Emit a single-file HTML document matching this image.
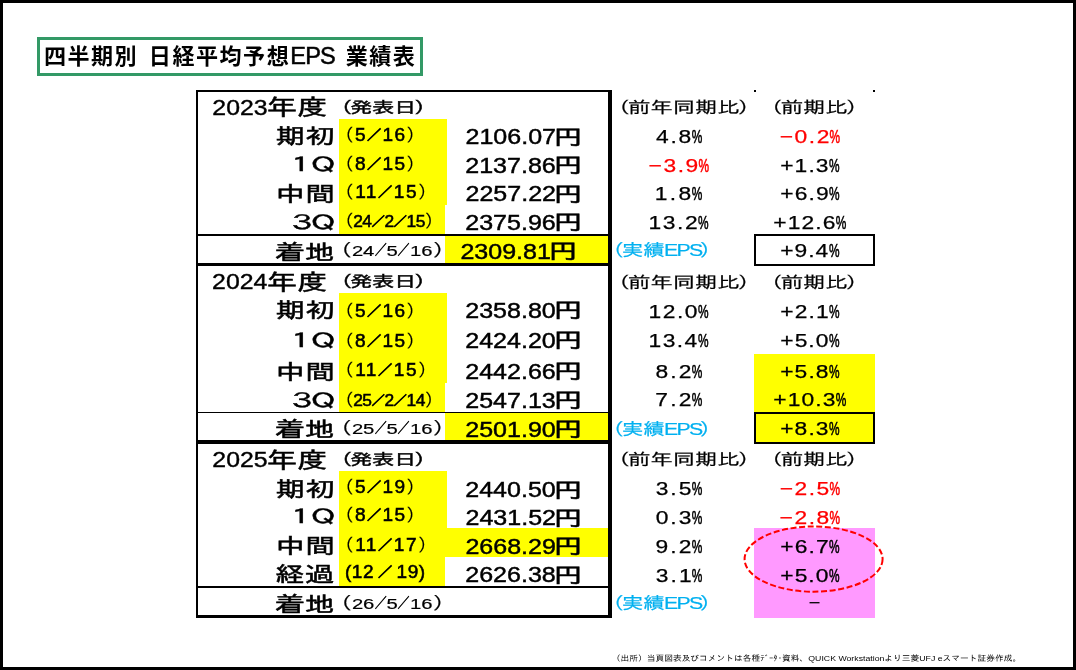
<!DOCTYPE html>
<html lang="ja"><head><meta charset="utf-8"><title>四半期別 日経平均予想EPS 業績表</title>
<style>
html,body{margin:0;padding:0;background:#fff}
body{position:relative;width:1076px;height:670px;overflow:hidden}
.r{position:absolute}
.t{position:absolute;left:0;top:0;white-space:nowrap;line-height:1 !important;transform-origin:0 0}
.ti{font:700 22px 'Liberation Sans','Noto Sans CJK JP',sans-serif;}
.yr{font:400 22.25px 'Liberation Sans','IPAGothic',sans-serif;-webkit-text-stroke:0.4px;}
.nd{font:400 22.25px 'Liberation Sans','IPAGothic',sans-serif;-webkit-text-stroke:0.5px;}
.hp{font:400 15.75px 'Liberation Sans','IPAGothic',sans-serif;-webkit-text-stroke:0.45px;}
.lb{font:400 21.5px 'Liberation Sans','IPAGothic',sans-serif;-webkit-text-stroke:0.5px;}
.lq{font:400 20.5px 'Liberation Sans','IPAGothic',sans-serif;-webkit-text-stroke:0.4px;}
.db{font:400 18.3px 'Liberation Sans','IPAGothic',sans-serif;-webkit-text-stroke:0.55px;}
.dc{font:400 16.7px 'Liberation Sans','IPAGothic',sans-serif;-webkit-text-stroke:0.55px;}
.de{font:400 18.3px 'Liberation Sans','IPAGothic',sans-serif;-webkit-text-stroke:0.55px;}
.dn{font:400 15.1px 'Liberation Sans','IPAGothic',sans-serif;-webkit-text-stroke:0.2px;}
.vl{font:400 21.5px 'Liberation Sans','IPAGothic',sans-serif;-webkit-text-stroke:0.45px;}
.yn{font:400 21.5px 'Liberation Sans','IPAGothic',sans-serif;-webkit-text-stroke:0.5px;}
.pn{font:400 18.25px 'Liberation Sans','IPAGothic',sans-serif;-webkit-text-stroke:0.25px;}
.pc{font:400 18.75px 'Liberation Sans','IPAGothic',sans-serif;-webkit-text-stroke:0.6px;}
.hd{font:400 16px 'Liberation Sans','IPAGothic',sans-serif;-webkit-text-stroke:0.2px;}
.ep{font:400 16.75px 'Liberation Sans','IPAGothic',sans-serif;-webkit-text-stroke:0.2px;}
.ds{font:400 18.5px 'Liberation Sans','IPAGothic',sans-serif;}
.ft{font:400 8px 'Liberation Sans','IPAGothic',sans-serif;}
.ti{word-spacing:3px;letter-spacing:1.5px}
.ti .e{font-weight:400;font-size:23.5px;-webkit-text-stroke:.5px;letter-spacing:-.8px}
.db .p,.dc .p{font-size:17px;-webkit-text-stroke:.15px}
.db .s,.de .s{font-size:14px;position:relative;top:-1px;-webkit-text-stroke:1px}
.dc .s{font-size:13px;position:relative;top:-1px;-webkit-text-stroke:.9px}
.dn .p{font-size:16.9px}
.de .s{margin:0 3.5px}
.dn .s{display:inline-block;font-size:14.5px;transform:scaleX(.64);margin:0 -2.6px;position:relative;top:-1px;-webkit-text-stroke:.5px}
.ep .e{letter-spacing:-1.3px;margin-left:-.5px}
.hd .p,.hp .p,.ep .p{margin-right:-1.6px}
.hd .q,.hp .q,.ep .q{margin-left:-1.6px}
</style></head><body>
<div class="r" style="left:0;top:0;width:1070px;height:664px;border:3px solid #000"></div>
<div class="r" style="left:37px;top:37px;width:380px;height:33px;border:3px solid #396"></div>
<div class="r" style="left:339px;top:119px;width:108px;height:86px;background:#ff0"></div>
<div class="r" style="left:339px;top:205px;width:106px;height:29px;background:#ff0"></div>
<div class="r" style="left:339px;top:293px;width:108px;height:90px;background:#ff0"></div>
<div class="r" style="left:339px;top:383px;width:106px;height:29px;background:#ff0"></div>
<div class="r" style="left:339px;top:471px;width:108px;height:86px;background:#ff0"></div>
<div class="r" style="left:339px;top:557px;width:106px;height:29px;background:#ff0"></div>
<div class="r" style="left:445px;top:236px;width:163px;height:27px;background:#ff0"></div>
<div class="r" style="left:445px;top:413px;width:163px;height:27px;background:#ff0"></div>
<div class="r" style="left:445px;top:528px;width:163px;height:29px;background:#ff0"></div>
<div class="r" style="left:754px;top:354px;width:121px;height:90px;background:#ff0"></div>
<div class="r" style="left:754px;top:528px;width:121px;height:90px;background:#f9f"></div>
<div class="r" style="left:196px;top:90px;width:416px;height:2px;background:#000"></div>
<div class="r" style="left:196px;top:90px;width:2px;height:528px;background:#000"></div>
<div class="r" style="left:608px;top:90px;width:4px;height:528px;background:#000"></div>
<div class="r" style="left:196px;top:615px;width:416px;height:3px;background:#000"></div>
<div class="r" style="left:196px;top:234px;width:414px;height:2px;background:#000"></div>
<div class="r" style="left:196px;top:263px;width:414px;height:3px;background:#000"></div>
<div class="r" style="left:196px;top:412px;width:414px;height:1px;background:#000"></div>
<div class="r" style="left:196px;top:440px;width:414px;height:4px;background:#000"></div>
<div class="r" style="left:196px;top:586px;width:414px;height:2px;background:#000"></div>
<div class="r" style="left:754px;top:234px;width:117px;height:28px;border:2px solid #000"></div>
<div class="r" style="left:754px;top:412px;width:117px;height:28px;border:2px solid #000"></div>
<div class="r" style="left:754px;top:90px;width:2px;height:2px;background:#000"></div>
<div class="r" style="left:873px;top:90px;width:2px;height:2px;background:#000"></div>
<svg class="r" style="left:735px;top:518px" width="160" height="84" viewBox="735 518 160 84"><ellipse cx="813.6" cy="559.1" rx="69" ry="32.6" fill="none" stroke="#f00" stroke-width="2" stroke-dasharray="6 2.6"/></svg>
<div class="t ti" style="transform:translate(43.90px,45px) scaleX(1.003)">四半期別 日経平均予想<span class="e">EPS</span> 業績表</div>
<div class="t yr" style="transform:translate(212.35px,97px) scaleX(1.116)">2023</div>
<div class="t nd" style="transform:translate(266.62px,97px) scaleX(1.375)">年度</div>
<div class="t hp" style="transform:translate(330.60px,100px) scaleX(1.396)"><span class="p">（</span>発表日<span class="q">）</span></div>
<div class="t lb" style="transform:translate(275.50px,127px) scaleX(1.387)">期初</div>
<div class="t lq" style="letter-spacing:-5.97px;transform:translate(284.50px,155px) scaleX(1.550)">１Ｑ</div>
<div class="t lb" style="transform:translate(275.50px,185px) scaleX(1.387)">中間</div>
<div class="t lq" style="letter-spacing:-7.26px;transform:translate(286.50px,213px) scaleX(1.550)">３Ｑ</div>
<div class="t lb" style="transform:translate(275.12px,243px) scaleX(1.387)">着地</div>
<div class="t db" style="letter-spacing:1.19px;transform:translate(336.02px,126px) scaleX(1.040)"><span class="p">（</span>5<span class="s">／</span>16<span class="p">）</span></div>
<div class="t db" style="letter-spacing:1.19px;transform:translate(336.02px,155px) scaleX(1.040)"><span class="p">（</span>8<span class="s">／</span>15<span class="p">）</span></div>
<div class="t db" style="letter-spacing:1.41px;transform:translate(335.98px,183px) scaleX(1.040)"><span class="p">（</span>11<span class="s">／</span>15<span class="p">）</span></div>
<div class="t dc" style="letter-spacing:-0.51px;transform:translate(336.00px,213px) scaleX(1.040)"><span class="p">（</span>24<span class="s">／</span>2<span class="s">／</span>15<span class="p">）</span></div>
<div class="t dn" style="letter-spacing:-0.09px;transform:translate(329.45px,243px) scaleX(1.340)"><span class="p">（</span>24<span class="s">／</span>5<span class="s">／</span>16<span class="p">）</span></div>
<div class="t vl" style="transform:translate(465.50px,127px) scaleX(1.164)">2106.07</div>
<div class="t yn" style="transform:translate(553.62px,128px) scaleX(1.409)">円</div>
<div class="t vl" style="transform:translate(465.25px,156px) scaleX(1.164)">2137.86</div>
<div class="t yn" style="transform:translate(553.62px,156px) scaleX(1.409)">円</div>
<div class="t vl" style="transform:translate(465.50px,184px) scaleX(1.164)">2257.22</div>
<div class="t yn" style="transform:translate(553.62px,185px) scaleX(1.409)">円</div>
<div class="t vl" style="transform:translate(465.25px,213px) scaleX(1.164)">2375.96</div>
<div class="t yn" style="transform:translate(553.62px,213px) scaleX(1.409)">円</div>
<div class="t vl" style="transform:translate(460.38px,242px) scaleX(1.164)">2309.81</div>
<div class="t yn" style="transform:translate(548.62px,242px) scaleX(1.409)">円</div>
<div class="t pn" style="letter-spacing:1.36px;transform:translate(656.07px,128px) scaleX(1.250)">4.8</div>
<div class="t pc" style="transform:translate(691.75px,128px) scaleX(0.634)">%</div>
<div class="t pn" style="letter-spacing:1.24px;color:#f00;transform:translate(648.57px,157px) scaleX(1.250)">−3.9</div>
<div class="t pc" style="color:#f00;transform:translate(698.62px,157px) scaleX(0.634)">%</div>
<div class="t pn" style="letter-spacing:1.86px;transform:translate(654.82px,185px) scaleX(1.250)">1.8</div>
<div class="t pc" style="transform:translate(691.75px,185px) scaleX(0.634)">%</div>
<div class="t pn" style="letter-spacing:1.28px;transform:translate(648.55px,214px) scaleX(1.250)">13.2</div>
<div class="t pc" style="transform:translate(698.07px,214px) scaleX(0.634)">%</div>
<div class="t pn" style="letter-spacing:1.24px;color:#f00;transform:translate(779.70px,128px) scaleX(1.250)">−0.2</div>
<div class="t pc" style="color:#f00;transform:translate(829.62px,128px) scaleX(0.634)">%</div>
<div class="t pn" style="letter-spacing:0.88px;transform:translate(780.17px,157px) scaleX(1.250)">+1.3</div>
<div class="t pc" style="transform:translate(829.07px,157px) scaleX(0.634)">%</div>
<div class="t pn" style="letter-spacing:0.88px;transform:translate(780.30px,185px) scaleX(1.250)">+6.9</div>
<div class="t pc" style="transform:translate(829.07px,185px) scaleX(0.634)">%</div>
<div class="t pn" style="letter-spacing:0.88px;transform:translate(773.32px,214px) scaleX(1.250)">+12.6</div>
<div class="t pc" style="transform:translate(835.87px,214px) scaleX(0.634)">%</div>
<div class="t pn" style="letter-spacing:0.75px;transform:translate(780.30px,242px) scaleX(1.250)">+9.4</div>
<div class="t pc" style="transform:translate(829.07px,242px) scaleX(0.634)">%</div>
<div class="t hd" style="transform:translate(607.75px,100px) scaleX(1.399)"><span class="p">（</span>前年同期比<span class="q">）</span></div>
<div class="t hd" style="transform:translate(760.50px,100px) scaleX(1.399)"><span class="p">（</span>前期比<span class="q">）</span></div>
<div class="t ep" style="color:#00b0f0;transform:translate(602.70px,243px) scaleX(1.271)"><span class="p">（</span>実績<span class="e">EPS</span><span class="q">）</span></div>
<div class="t yr" style="transform:translate(212.10px,271px) scaleX(1.116)">2024</div>
<div class="t nd" style="transform:translate(266.62px,272px) scaleX(1.375)">年度</div>
<div class="t hp" style="transform:translate(330.60px,274px) scaleX(1.396)"><span class="p">（</span>発表日<span class="q">）</span></div>
<div class="t lb" style="transform:translate(275.50px,301px) scaleX(1.387)">期初</div>
<div class="t lq" style="letter-spacing:-5.97px;transform:translate(284.50px,331px) scaleX(1.550)">１Ｑ</div>
<div class="t lb" style="transform:translate(275.50px,363px) scaleX(1.387)">中間</div>
<div class="t lq" style="letter-spacing:-7.26px;transform:translate(286.50px,391px) scaleX(1.550)">３Ｑ</div>
<div class="t lb" style="transform:translate(275.12px,420px) scaleX(1.387)">着地</div>
<div class="t db" style="letter-spacing:1.19px;transform:translate(336.02px,302px) scaleX(1.040)"><span class="p">（</span>5<span class="s">／</span>16<span class="p">）</span></div>
<div class="t db" style="letter-spacing:1.19px;transform:translate(336.02px,332px) scaleX(1.040)"><span class="p">（</span>8<span class="s">／</span>15<span class="p">）</span></div>
<div class="t db" style="letter-spacing:1.41px;transform:translate(335.98px,361px) scaleX(1.040)"><span class="p">（</span>11<span class="s">／</span>15<span class="p">）</span></div>
<div class="t dc" style="letter-spacing:-0.51px;transform:translate(336.00px,392px) scaleX(1.040)"><span class="p">（</span>25<span class="s">／</span>2<span class="s">／</span>14<span class="p">）</span></div>
<div class="t dn" style="letter-spacing:-0.09px;transform:translate(329.45px,421px) scaleX(1.340)"><span class="p">（</span>25<span class="s">／</span>5<span class="s">／</span>16<span class="p">）</span></div>
<div class="t vl" style="transform:translate(465.25px,301px) scaleX(1.164)">2358.80</div>
<div class="t yn" style="transform:translate(553.62px,301px) scaleX(1.409)">円</div>
<div class="t vl" style="transform:translate(465.25px,331px) scaleX(1.164)">2424.20</div>
<div class="t yn" style="transform:translate(553.62px,331px) scaleX(1.409)">円</div>
<div class="t vl" style="transform:translate(465.25px,362px) scaleX(1.164)">2442.66</div>
<div class="t yn" style="transform:translate(553.62px,362px) scaleX(1.409)">円</div>
<div class="t vl" style="transform:translate(465.25px,391px) scaleX(1.164)">2547.13</div>
<div class="t yn" style="transform:translate(553.62px,391px) scaleX(1.409)">円</div>
<div class="t vl" style="transform:translate(465.25px,420px) scaleX(1.164)">2501.90</div>
<div class="t yn" style="transform:translate(553.62px,420px) scaleX(1.409)">円</div>
<div class="t pn" style="letter-spacing:1.21px;transform:translate(648.55px,303px) scaleX(1.250)">12.0</div>
<div class="t pc" style="transform:translate(698.07px,303px) scaleX(0.634)">%</div>
<div class="t pn" style="letter-spacing:1.15px;transform:translate(648.55px,332px) scaleX(1.250)">13.4</div>
<div class="t pc" style="transform:translate(698.07px,332px) scaleX(0.634)">%</div>
<div class="t pn" style="letter-spacing:1.66px;transform:translate(655.57px,363px) scaleX(1.250)">8.2</div>
<div class="t pc" style="transform:translate(691.75px,363px) scaleX(0.634)">%</div>
<div class="t pn" style="letter-spacing:1.76px;transform:translate(655.32px,391px) scaleX(1.250)">7.2</div>
<div class="t pc" style="transform:translate(691.75px,391px) scaleX(0.634)">%</div>
<div class="t pn" style="letter-spacing:0.88px;transform:translate(780.30px,303px) scaleX(1.250)">+2.1</div>
<div class="t pc" style="transform:translate(829.07px,303px) scaleX(0.634)">%</div>
<div class="t pn" style="letter-spacing:0.81px;transform:translate(780.30px,332px) scaleX(1.250)">+5.0</div>
<div class="t pc" style="transform:translate(829.07px,332px) scaleX(0.634)">%</div>
<div class="t pn" style="letter-spacing:0.88px;transform:translate(780.17px,363px) scaleX(1.250)">+5.8</div>
<div class="t pc" style="transform:translate(829.07px,363px) scaleX(0.634)">%</div>
<div class="t pn" style="letter-spacing:0.88px;transform:translate(773.32px,391px) scaleX(1.250)">+10.3</div>
<div class="t pc" style="transform:translate(835.87px,391px) scaleX(0.634)">%</div>
<div class="t pn" style="letter-spacing:0.88px;transform:translate(780.17px,420px) scaleX(1.250)">+8.3</div>
<div class="t pc" style="transform:translate(829.07px,420px) scaleX(0.634)">%</div>
<div class="t hd" style="transform:translate(607.75px,275px) scaleX(1.399)"><span class="p">（</span>前年同期比<span class="q">）</span></div>
<div class="t hd" style="transform:translate(760.50px,275px) scaleX(1.399)"><span class="p">（</span>前期比<span class="q">）</span></div>
<div class="t ep" style="color:#00b0f0;transform:translate(602.70px,422px) scaleX(1.271)"><span class="p">（</span>実績<span class="e">EPS</span><span class="q">）</span></div>
<div class="t yr" style="transform:translate(212.35px,449px) scaleX(1.116)">2025</div>
<div class="t nd" style="transform:translate(266.62px,450px) scaleX(1.375)">年度</div>
<div class="t hp" style="transform:translate(330.60px,452px) scaleX(1.396)"><span class="p">（</span>発表日<span class="q">）</span></div>
<div class="t lb" style="transform:translate(275.50px,480px) scaleX(1.387)">期初</div>
<div class="t lq" style="letter-spacing:-5.97px;transform:translate(284.50px,507px) scaleX(1.550)">１Ｑ</div>
<div class="t lb" style="transform:translate(275.50px,537px) scaleX(1.387)">中間</div>
<div class="t lb" style="transform:translate(275.00px,565px) scaleX(1.387)">経過</div>
<div class="t lb" style="transform:translate(275.12px,595px) scaleX(1.387)">着地</div>
<div class="t db" style="letter-spacing:1.19px;transform:translate(336.02px,478px) scaleX(1.040)"><span class="p">（</span>5<span class="s">／</span>19<span class="p">）</span></div>
<div class="t db" style="letter-spacing:1.19px;transform:translate(336.02px,506px) scaleX(1.040)"><span class="p">（</span>8<span class="s">／</span>15<span class="p">）</span></div>
<div class="t db" style="letter-spacing:1.41px;transform:translate(335.98px,536px) scaleX(1.040)"><span class="p">（</span>11<span class="s">／</span>17<span class="p">）</span></div>
<div class="t de" style="letter-spacing:0.54px;transform:translate(344.95px,563px) scaleX(1.040)">(12<span class="s">／</span>19)</div>
<div class="t dn" style="letter-spacing:-0.09px;transform:translate(329.45px,596px) scaleX(1.340)"><span class="p">（</span>26<span class="s">／</span>5<span class="s">／</span>16<span class="p">）</span></div>
<div class="t vl" style="transform:translate(465.25px,480px) scaleX(1.164)">2440.50</div>
<div class="t yn" style="transform:translate(553.62px,481px) scaleX(1.409)">円</div>
<div class="t vl" style="transform:translate(465.50px,508px) scaleX(1.164)">2431.52</div>
<div class="t yn" style="transform:translate(553.62px,509px) scaleX(1.409)">円</div>
<div class="t vl" style="transform:translate(465.38px,537px) scaleX(1.164)">2668.29</div>
<div class="t yn" style="transform:translate(553.62px,537px) scaleX(1.409)">円</div>
<div class="t vl" style="transform:translate(465.25px,565px) scaleX(1.164)">2626.38</div>
<div class="t yn" style="transform:translate(553.62px,566px) scaleX(1.409)">円</div>
<div class="t pn" style="letter-spacing:1.56px;transform:translate(655.70px,480px) scaleX(1.250)">3.5</div>
<div class="t pc" style="transform:translate(691.75px,480px) scaleX(0.634)">%</div>
<div class="t pn" style="letter-spacing:1.56px;transform:translate(655.70px,509px) scaleX(1.250)">0.3</div>
<div class="t pc" style="transform:translate(691.75px,509px) scaleX(0.634)">%</div>
<div class="t pn" style="letter-spacing:1.66px;transform:translate(655.57px,538px) scaleX(1.250)">9.2</div>
<div class="t pc" style="transform:translate(691.75px,538px) scaleX(0.634)">%</div>
<div class="t pn" style="letter-spacing:1.66px;transform:translate(655.70px,567px) scaleX(1.250)">3.1</div>
<div class="t pc" style="transform:translate(691.75px,567px) scaleX(0.634)">%</div>
<div class="t pn" style="letter-spacing:1.17px;color:#f00;transform:translate(779.70px,480px) scaleX(1.250)">−2.5</div>
<div class="t pc" style="color:#f00;transform:translate(829.62px,480px) scaleX(0.634)">%</div>
<div class="t pn" style="letter-spacing:1.24px;color:#f00;transform:translate(779.57px,509px) scaleX(1.250)">−2.8</div>
<div class="t pc" style="color:#f00;transform:translate(829.62px,509px) scaleX(0.634)">%</div>
<div class="t pn" style="letter-spacing:0.88px;transform:translate(780.30px,538px) scaleX(1.250)">+6.7</div>
<div class="t pc" style="transform:translate(829.07px,538px) scaleX(0.634)">%</div>
<div class="t pn" style="letter-spacing:0.81px;transform:translate(780.30px,567px) scaleX(1.250)">+5.0</div>
<div class="t pc" style="transform:translate(829.07px,567px) scaleX(0.634)">%</div>
<div class="t hd" style="transform:translate(607.75px,452px) scaleX(1.399)"><span class="p">（</span>前年同期比<span class="q">）</span></div>
<div class="t hd" style="transform:translate(760.50px,452px) scaleX(1.399)"><span class="p">（</span>前期比<span class="q">）</span></div>
<div class="t ep" style="color:#00b0f0;transform:translate(602.70px,596px) scaleX(1.271)"><span class="p">（</span>実績<span class="e">EPS</span><span class="q">）</span></div>
<div class="t ds" style="transform:translate(808.50px,594px) scaleX(1.111)">−</div>
<div class="t ft" style="transform:translate(611.75px,655px) scaleX(1.092)">（出所）当頁図表及びコメントは各種ﾃﾞｰﾀ･資料、QUICK Workstationより三菱UFJ eスマート証券作成。</div>
</body></html>
